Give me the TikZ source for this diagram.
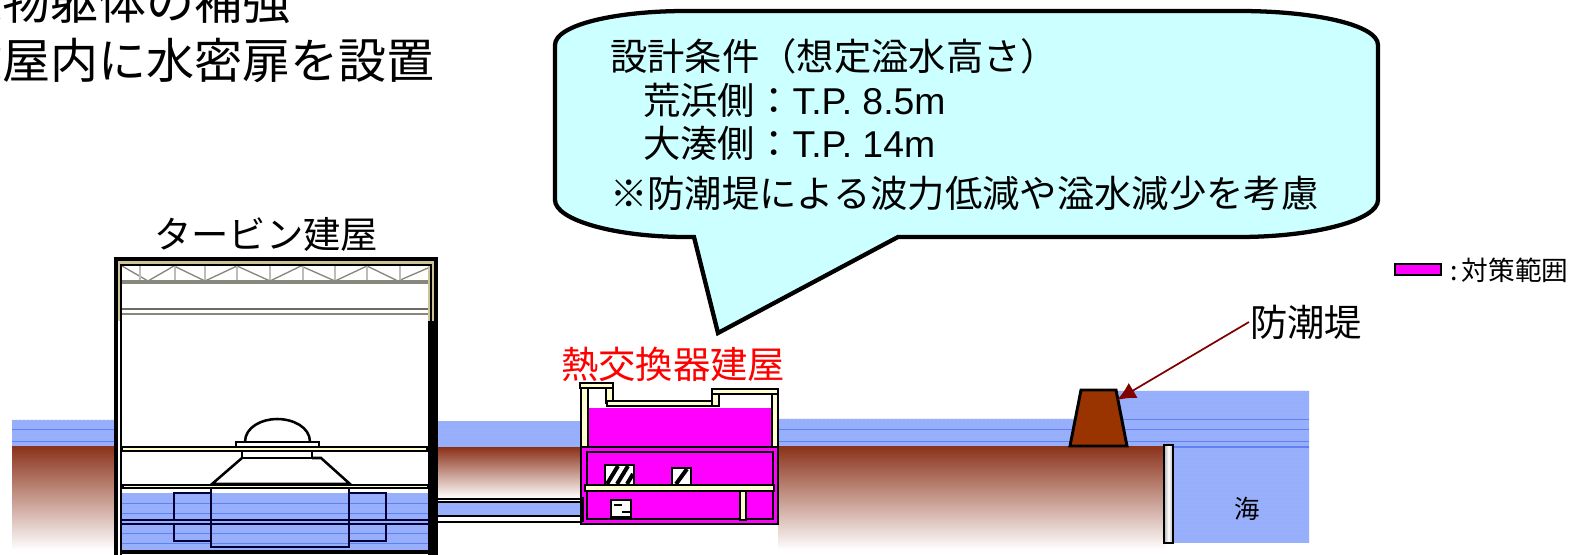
\documentclass[tikz,border=0pt]{standalone}
\usepackage{fontspec}
\setmainfont{Noto Sans CJK JP}
\newfontfamily\latinfont{Liberation Sans}
\usepackage{tikz}
\usetikzlibrary{arrows.meta,patterns}
\definecolor{waterblue}{RGB}{152,176,252}
\definecolor{waterline}{RGB}{95,130,240}
\definecolor{groundbrown}{RGB}{140,52,28}
\definecolor{dykebrown}{RGB}{153,51,0}
\definecolor{wallcream}{RGB}{255,255,204}
\definecolor{calloutblue}{RGB}{204,255,255}
\definecolor{roofgrey}{RGB}{135,135,125}
\definecolor{rooftan}{RGB}{205,195,150}
\definecolor{rangepink}{RGB}{255,0,255}
\definecolor{arrowred}{RGB}{128,0,0}
\tikzset{
  water/.style={fill=waterblue,draw=none,postaction={pattern=dots,pattern color=waterline!70}},
  wallpart/.style={fill=wallcream,draw=black,line width=1.4pt},
  blackline/.style={draw=black,line width=1.9pt},
  roomline/.style={draw=black!80!blue,line width=1.4pt},
  bigtext/.style={inner sep=0.75pt,font=\fontsize{28}{28}\selectfont},
}
\begin{document}
\begin{tikzpicture}[x=0.75pt,y=0.75pt,yscale=-1,xscale=1]
\useasboundingbox (0,0) rectangle (1575,555);

%Water
\fill [water] (12,420) rectangle (116,447);
\fill [water] (437,421) rectangle (582,448);
\fill [water] (778,419) -- (1117,419) -- (1117,391) -- (1309,391) -- (1309,543) -- (1165,543) -- (1165,447) -- (778,447) -- cycle;
\foreach \y in {429,441} {
  \draw [waterline,line width=0.5pt] (12,\y) -- (116,\y);
  \draw [waterline,line width=0.5pt] (778,\y) -- (1309,\y);
}
\draw [waterline,line width=0.5pt] (1117,419) -- (1309,419);
\draw [waterline,line width=1.2pt] (1172,447) -- (1309,447);

%Ground
\fill [top color=groundbrown,bottom color=white] (12,447) rectangle (116,550);
\fill [top color=groundbrown,bottom color=white] (437,448) rectangle (582,498);
\fill [top color=groundbrown,bottom color=white] (778,447) rectangle (1165,550);

%Turbine building
\fill [white] (116,260) rectangle (436,555);
\fill [water] (120,493) rectangle (431,552);
\foreach \y in {503,513,533,543} {
  \draw [waterline,line width=0.5pt] (120,\y) -- (431,\y);
}
%Roof
\fill [rooftan] (115,260) rectangle (122,321);
\fill [rooftan] (428,260) rectangle (436,321);
\fill [rooftan] (115,261) rectangle (436,266);
\draw [roofgrey,line width=1pt] (122,266) -- (148,281) -- (174,266) -- (205,281) -- (237,266) -- (270,281) -- (301,266) -- (335,281) -- (367,266) -- (398,281) -- (428,268);
\foreach \x in {140,175,205,237,270,303,335,367,400} {
  \draw [roofgrey!55,line width=1pt] (\x,266) -- (\x,281);
}
\draw [roofgrey,line width=2.4pt] (122,282) -- (428,282);
\draw [roofgrey!80!black,line width=1.5pt] (122,309) -- (428,309);
\draw [roofgrey,line width=2.2pt] (122,314) -- (428,314);
%Walls
\draw [black,line width=2.6pt] (116,555) -- (116,259) -- (436,259) -- (436,555);
\draw [black,line width=2.2pt] (121,555) -- (121,265) -- (431,265) -- (431,321);
\draw [black,line width=6pt] (432,321) -- (432,555);
\draw [black,line width=2.4pt] (120,552) -- (431,552);
%Floors
\draw [wallpart] (122,447) rectangle (427,451);
\draw [wallpart] (123,485) rectangle (428,488);
\draw [wallpart,fill=white] (236,442) rectangle (319,447);
\draw [blackline] (245,442) .. controls (245,427) and (262,419) .. (277,419) .. controls (293,419) and (310,427) .. (310,442);
\draw [blackline,fill=white] (242,451) rectangle (312,458);
\draw [blackline] (242,458) -- (212,484) -- (350,484) -- (321,458) -- (312,458);
%Rooms in the water
\draw [roomline] (211,488) -- (211,547) -- (349,547) -- (349,488);
\draw [roomline] (211,493) -- (174,493) -- (174,520);
\draw [roomline] (174,524) -- (174,541) -- (211,541);
\draw [roomline] (349,493) -- (386,493) -- (386,520);
\draw [roomline] (386,524) -- (386,541) -- (349,541);
\draw [roomline] (120,520) -- (431,520);
\draw [roomline] (120,524) -- (431,524);

%Pipe
\draw [black,line width=1.4pt,fill=white] (437,499) rectangle (582,522);
\draw [black,line width=1.6pt,water] (437,502) rectangle (582,516);
\draw [black,line width=1.6pt] (437,502) rectangle (582,516);

%Heat exchanger building
\fill [rangepink] (588,408) rectangle (773,448);
\draw [blackline,fill=rangepink] (581,447) rectangle (778,524);
\draw [blackline] (587,452) rectangle (773,519);
\draw [wallpart] (581,388) rectangle (588,447);
\draw [wallpart] (606,388) rectangle (613,403);
\draw [wallpart] (607,401) rectangle (712,406);
\draw [wallpart] (712,393) rectangle (719,406);
\draw [wallpart] (772,394) rectangle (778,447);
\draw [wallpart] (580,383) rectangle (613,388);
\draw [wallpart] (712,389) rectangle (778,394);
\draw [blackline,fill=white] (605,465) rectangle (634,485);
\foreach \x in {613,623} {
  \draw [black,line width=3pt] (\x-6,484) -- (\x+5,466);
}
\draw [black,line width=3pt] (627,484) -- (633,474);
\draw [blackline,fill=white] (672,468) rectangle (691,485);
\draw [black,line width=3pt] (676,484) -- (687,469);
\draw [wallpart] (585,485) rectangle (774,491);
\draw [wallpart] (740,491) rectangle (746,520);
\draw [blackline,fill=white] (611,500) rectangle (631,517);
\draw [black,line width=1.4pt] (614,505) -- (622,505);
\draw [black,line width=1.4pt] (622,512) -- (631,512);
\draw [black,line width=3pt] (582,497) -- (582,522);

%Seawall
\draw [black,line width=2.2pt,fill=dykebrown] (1070,446) -- (1081,390) -- (1116,390) -- (1127,446) -- cycle;
\coordinate (dyketop) at (1117,400);
\draw [black,line width=1.6pt,left color=gray!60,right color=gray!60,middle color=white] (1164,445) rectangle (1173,543);

%Callout
\draw [black,line width=3.2pt,fill=calloutblue] (686,11) -- (1239,11) .. controls (1315,11) and (1378,25) .. (1378,45) -- (1378,200) .. controls (1378,220) and (1315,237) .. (1239,237) -- (898,237) -- (718,333) -- (694,237) -- (686,237) .. controls (615,237) and (555,220) .. (555,200) -- (555,45) .. controls (555,25) and (615,11) .. (686,11) -- cycle;

%Legend
\draw [black,line width=2pt,fill=rangepink] (1395,264) rectangle (1441,275);

% Text Node
\node (kyoka) [anchor=east,inner sep=0pt,font=\fontsize{36}{36}\selectfont] at (291,1) {建物躯体の補強};
% Text Node
\node (suimitsu) [anchor=east,inner sep=0pt,font=\fontsize{36}{36}\selectfont] at (435,61) {建屋内に水密扉を設置};
% Text Node
\node (joken) [anchor=west,bigtext] at (609,56) {設計条件（想定溢水高さ）};
% Text Node
\node (arahama) [anchor=west,bigtext] at (642,100) {荒浜側：{\latinfont T.P. 8.5m}};
% Text Node
\node (ominato) [anchor=west,bigtext] at (642,143) {大湊側：{\latinfont T.P. 14m}};
% Text Node
\node (kouryo) [anchor=west,bigtext] at (609,193) {※防潮堤による波力低減や溢水減少を考慮};
% Text Node
\node (turbine) [bigtext] at (266,235) {タービン建屋};
% Text Node
\node (netsu) [bigtext,text=red] at (673,364) {熱交換器建屋};
% Text Node
\node (bouchotei) [bigtext,anchor=west] at (1249,322) {防潮堤};
% Text Node
\node (umi) [inner sep=0.75pt,font=\fontsize{19}{19}\selectfont] at (1247,509) {海};
% Text Node
\node (hani) [anchor=west,inner sep=0.75pt,font=\fontsize{20}{20}\selectfont] at (1449,270) {:\hspace{3pt}対策範囲};

%Straight Lines
\draw [-{Latex[length=14pt,width=13pt]},color=arrowred,line width=1.3pt] (bouchotei.west) -- (dyketop);
\end{tikzpicture}
\end{document}
